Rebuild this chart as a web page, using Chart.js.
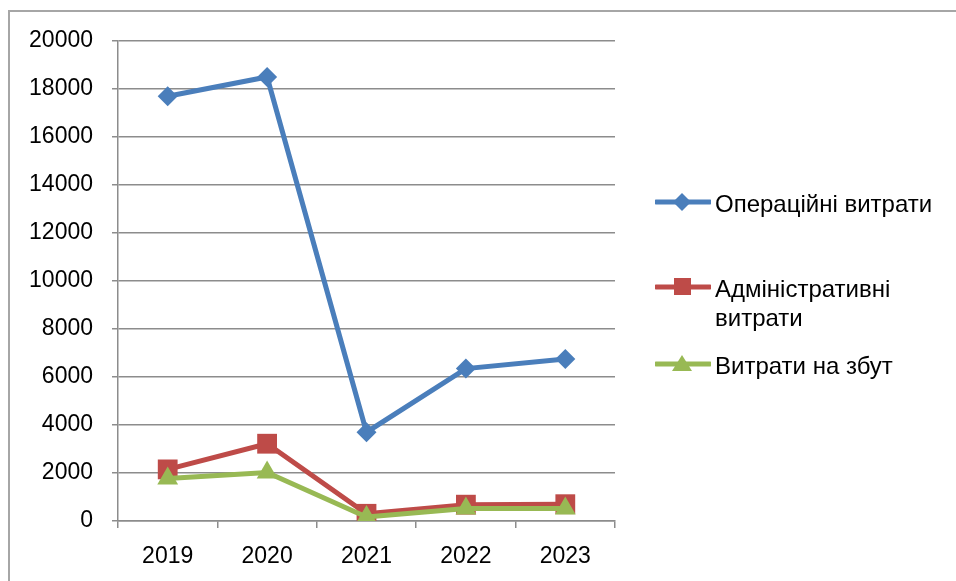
<!DOCTYPE html>
<html lang="uk">
<head>
  <meta charset="UTF-8">
  <title>Витрати</title>
  <script src="https://cdn.jsdelivr.net/npm/chart.js"></script>
  <style>
    html, body { margin: 0; padding: 0; background: #fff; }
    body { width: 956px; height: 581px; position: relative; overflow: hidden; font-family: 'Liberation Sans', Arial, sans-serif; }
    #frame { position: absolute; left: 8px; top: 10px; right: -5px; bottom: -5px; border-top: 2px solid #a6a6a6; border-left: 2px solid #a6a6a6; }
    #wrap { position: absolute; left: 0; top: 0; width: 956px; height: 581px; }
    .legend { position: absolute; left: 655px; font-size: 24px; color: #000; }
    .item { position: absolute; left: 0; display: flex; align-items: flex-start; white-space: nowrap; }
    .item svg { flex: none; }
    .item span { margin-left: 4px; line-height: 29px; }
  </style>
</head>
<body>
  <div id="frame"></div>
  <div id="wrap"><canvas id="chart" width="956" height="581"></canvas></div>
  <div class="legend" id="legend"></div>

  <script>
    const years = ['2019', '2020', '2021', '2022', '2023'];
    const operational = [17700, 18500, 3700, 6350, 6750];
    const administrative = [2150, 3220, 300, 680, 700];
    const sales = [1770, 2020, 170, 520, 520];
    const seriesNames = ['Операційні витрати', ['Адміністративні', 'витрати'], 'Витрати на збут'];

    const blue = '#4a7ebb', red = '#be4b48', green = '#98b954';
    const tickFont = { family: "'Liberation Sans', Arial, sans-serif", size: 23 };

    const ds = (label, data, color, style, r, order) => ({
      label, data, order,
      borderColor: color, backgroundColor: color,
      borderWidth: 5, pointStyle: style, pointRadius: r, pointHoverRadius: r,
      pointBorderWidth: 0, tension: 0
    });

    new Chart(document.getElementById('chart'), {
      type: 'line',
      data: {
        labels: years,
        datasets: [
          ds('Операційні витрати', operational, blue, 'rectRot', 10, 3),
          ds('Адміністративні витрати', administrative, red, 'rect', 14, 2),
          ds('Витрати на збут', sales, green, 'triangle', 12, 1)
        ]
      },
      options: {
        responsive: false,
        animation: false,
        layout: { padding: { left: 0, right: 341, top: 41, bottom: 0 } },
        plugins: { legend: { display: false }, tooltip: { enabled: false } },
        scales: {
          x: {
            offset: true,
            grid: { offset: true, drawOnChartArea: false, color: '#8c8c8c', lineWidth: 1.5, tickLength: 7 },
            border: { color: '#8c8c8c', width: 1.5 },
            ticks: { color: '#000', font: tickFont, padding: 15 },
            afterFit: s => { s.height = 60; }
          },
          y: {
            min: 0, max: 20000,
            grid: { color: '#8c8c8c', lineWidth: 1.5, tickLength: 6 },
            border: { color: '#8c8c8c', width: 1.5 },
            ticks: { stepSize: 2000, color: '#000', font: tickFont, padding: 19, callback: v => String(v) },
            afterFit: s => { s.width = 118; }
          }
        }
      }
    });

    // legend with line + marker like the original
    const markers = [
      [blue, '<polygon points="27,4 36,13 27,22 18,13"/>', 203],
      [red, '<rect x="19" y="4" width="17" height="17"/>', 288],
      [green, '<polygon points="27,4 37,20 17,20"/>', 365]
    ];
    const legend = document.getElementById('legend');
    markers.forEach((m, i) => {
      const item = document.createElement('div');
      item.className = 'item';
      item.style.top = (m[2] - 14) + 'px';
      const name = Array.isArray(seriesNames[i]) ? seriesNames[i].join('<br>') : seriesNames[i];
      item.innerHTML = `<svg width="56" height="28" fill="${m[0]}"><line x1="1" y1="13" x2="55" y2="13" stroke="${m[0]}" stroke-width="5" stroke-linecap="round"/>${m[1]}</svg><span>${name}</span>`;
      legend.appendChild(item);
    });
  </script>
</body>
</html>
